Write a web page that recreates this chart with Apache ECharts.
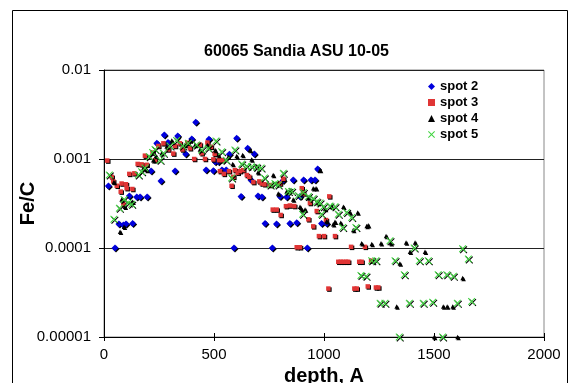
<!DOCTYPE html>
<html>
<head>
<meta charset="utf-8">
<script src="https://cdn.jsdelivr.net/npm/echarts@6/dist/echarts.min.js"></script>
<style>html,body{margin:0;padding:0;background:#fff}#c{width:575px;height:383px}</style>
</head>
<body>
<div id="c"></div>
<script>
const chartTitle = '60065 Sandia ASU 10-05';
const xName = 'depth, A';
const yName = 'Fe/C';
const seriesNames = ['spot 2', 'spot 3', 'spot 4', 'spot 5'];
const yTickLabels = ['0.00001', '0.0001', '0.001', '0.01'];
const xTicks = [0, 500, 1000, 1500, 2000];

const spot2 = [[20,4.97e-4],[50,1.0e-4],[68,1.86e-4],[88,1.81e-4],[100,1.86e-4],[115,3.84e-4],[130,1.89e-4],[149,3.74e-4],[164,3.74e-4],[196,3.74e-4],[214,7.33e-4],[240,1.50e-3],[259,5.65e-4],[274,1.86e-3],[291,1.53e-3],[323,7.33e-4],[335,1.81e-3],[371,1.14e-3],[399,1.68e-3],[417,2.59e-3],[464,7.52e-4],[477,1.67e-3],[497,7.4e-4],[505,9.3e-4],[520,9.3e-4],[536,7.52e-4],[555,7.52e-4],[570,1.13e-3],[591,1.0e-4],[603,1.71e-3],[623,3.8e-4],[653,1.32e-3],[668,5.8e-4],[683,1.14e-3],[700,3.84e-4],[718,3.74e-4],[732,1.89e-4],[765,1.0e-4],[784,1.86e-4],[800,3.8e-4],[814,5.75e-4],[830,3.74e-4],[845,1.88e-4],[860,5.81e-4],[876,1.92e-4],[891,3.8e-4],[907,5.81e-4],[924,1.0e-4],[941,5.81e-4],[959,5.81e-4],[971,7.72e-4],[989,1.89e-4],[1012,1.89e-4]];

const spot3 = [[15,9.6e-4],[35,6.3e-4],[42,5.6e-4],[58,5.0e-4],[76,4.3e-4],[80,5.3e-4],[88,3.1e-4],[100,5.2e-4],[103,4.7e-4],[115,6.8e-4],[129,4.6e-4],[138,6.9e-4],[153,8.8e-4],[171,8.7e-4],[186,1.09e-3],[194,8.6e-4],[221,1.18e-3],[232,9.7e-4],[247,1.4e-3],[270,1.5e-3],[292,1.28e-3],[315,1.15e-3],[323,1.4e-3],[345,1.5e-3],[356,1.28e-3],[379,1.52e-3],[391,1.32e-3],[410,1.0e-3],[436,1.45e-3],[444,1.16e-3],[459,1.0e-3],[470,1.53e-3],[486,1.37e-3],[497,9.9e-4],[503,1.14e-3],[523,9.7e-4],[539,9.7e-4],[527,7.3e-4],[545,6.8e-4],[568,7.3e-4],[580,5.0e-4],[588,6.3e-4],[595,7.5e-4],[608,7.0e-4],[618,7.3e-4],[633,7.5e-4],[649,6.6e-4],[660,6.3e-4],[679,5.5e-4],[706,5.6e-4],[717,5.3e-4],[729,5.2e-4],[755,5.1e-4],[800,5.3e-4],[815,6.0e-4],[767,2.7e-4],[785,2.7e-4],[803,2.35e-4],[827,2.95e-4],[845,3.0e-4],[865,2.96e-4],[876,1.02e-4],[891,1.02e-4],[899,4.7e-4],[906,4.1e-4],[929,2.1e-4],[936,3.2e-4],[951,1.75e-4],[967,2.6e-4],[977,1.36e-4],[1000,1.36e-4],[1009,2.06e-4],[1024,3.8e-4],[1050,1.36e-4],[1020,3.5e-5],[1065,7.0e-5],[1076,7.0e-5],[1088,7.0e-5],[1100,7.0e-5],[1110,7.0e-5],[1123,1.03e-4],[1138,3.5e-5],[1149,3.5e-5],[1160,7.0e-5],[1171,7.0e-5],[1186,1.03e-4],[1214,7.2e-5],[1199,3.7e-5],[1236,3.6e-5],[1247,3.6e-5]];

const spot4 = [[45,5.5e-4],[73,1.52e-4],[80,3.5e-4],[91,1.73e-4],[95,2.9e-4],[130,3.3e-4],[179,7.9e-4],[194,7.5e-4],[224,9.7e-4],[236,1.08e-3],[262,1.16e-3],[285,1.38e-3],[308,1.61e-3],[368,1.44e-3],[391,1.61e-3],[414,1.44e-3],[436,1.28e-3],[470,1.44e-3],[505,1.26e-3],[520,1.11e-3],[565,1.06e-3],[585,8.8e-4],[603,1.08e-3],[630,1.11e-3],[664,1.26e-3],[671,9.9e-4],[694,8.3e-4],[700,7.1e-4],[769,6.6e-4],[792,4.1e-4],[830,4.3e-4],[845,4.5e-4],[860,3.5e-4],[891,2.9e-4],[899,2.7e-4],[914,2.7e-4],[929,3.7e-4],[951,4.7e-4],[964,4.7e-4],[974,3.2e-4],[982,7.5e-4],[1005,2.75e-4],[1012,2.0e-4],[1035,2.9e-4],[1042,1.85e-4],[1050,1.97e-4],[1076,1.92e-4],[1088,2.9e-4],[1118,2.5e-4],[1133,1.59e-4],[1153,2.5e-4],[1171,1.13e-4],[1194,1.77e-4],[1201,1.8e-4],[1217,1.11e-4],[1259,1.13e-4],[1282,1.36e-4],[1304,1.13e-4],[1373,1.15e-4],[1414,1.15e-4],[1391,9.1e-5],[1459,9.1e-5],[1345,6.7e-5],[1330,2.2e-5],[1542,2.2e-5],[1560,2.2e-5],[1585,2.2e-5],[1630,4.6e-5],[1501,1.0e-5],[1607,1.0e-5]];

const spot5 = [[24,6.6e-4],[45,2.1e-4],[70,2.8e-4],[91,3.5e-4],[110,3.2e-4],[126,3.1e-4],[156,6.6e-4],[171,7.2e-4],[186,7.9e-4],[206,1.06e-3],[221,1.18e-3],[232,1.28e-3],[255,9.7e-4],[270,1.16e-3],[300,1.4e-3],[330,1.61e-3],[358,1.4e-3],[383,1.5e-3],[421,1.44e-3],[444,1.26e-3],[474,1.32e-3],[509,1.59e-3],[535,1.21e-3],[555,9.7e-4],[595,1.26e-3],[626,8.8e-4],[649,8.3e-4],[671,8.2e-4],[694,8.1e-4],[714,7.9e-4],[580,6.1e-4],[729,6.1e-4],[755,5.1e-4],[777,5.3e-4],[792,5.1e-4],[815,6.9e-4],[838,4.3e-4],[853,4.3e-4],[883,3.9e-4],[906,4.2e-4],[929,3.8e-4],[951,3.6e-4],[967,3.3e-4],[982,3.2e-4],[997,2.9e-4],[1027,2.96e-4],[1050,2.9e-4],[903,2.4e-4],[989,2.4e-4],[1065,2.4e-4],[1103,2.5e-4],[1126,2.2e-4],[1085,1.7e-4],[1145,1.7e-4],[1300,1.21e-4],[1410,1.0e-4],[1630,9.8e-5],[1656,7.5e-5],[1217,7.2e-5],[1236,7.2e-5],[1323,7.2e-5],[1433,7.2e-5],[1474,7.2e-5],[1168,4.9e-5],[1191,4.8e-5],[1365,5.0e-5],[1519,5.0e-5],[1558,5.0e-5],[1588,4.8e-5],[1255,2.4e-5],[1277,2.4e-5],[1388,2.4e-5],[1451,2.4e-5],[1494,2.45e-5],[1606,2.4e-5],[1671,2.5e-5],[1342,1.0e-5],[1539,1.0e-5]];

const seriesData = [spot2, spot3, spot4, spot5];
const colors = ['#0000dd', '#e03535', '#000000', '#3fd43f'];
const symbols = ['diamond', 'rect', 'triangle',
  'path://M0,1L1,0L5,4L9,0L10,1L6,5L10,9L9,10L5,6L1,10L0,9L4,5Z'];
const sizes = [7, 4.5, 4.5, 7.5];

const FONT = '"Liberation Sans", Arial, sans-serif';
const chart = echarts.init(document.getElementById('c'), null, {renderer: 'canvas'});

chart.setOption({
  animation: false,
  backgroundColor: '#fff',
  title: {
    text: chartTitle, left: 199, top: 39,
    textStyle: {fontFamily: FONT, fontSize: 16, fontWeight: 'bold', color: '#000'}
  },
  graphic: [{
    type: 'rect', shape: {x: 12.5, y: 10.5, width: 555, height: 400},
    style: {fill: 'none', stroke: '#000', lineWidth: 1}, silent: true, z: 0
  }],
  legend: {
    orient: 'vertical', left: 423, top: 75,
    itemWidth: 7, itemHeight: 7, itemGap: 3,
    data: seriesNames,
    textStyle: {fontFamily: FONT, fontSize: 13, fontWeight: 'bold', color: '#000', lineHeight: 12},
    itemStyle: {shadowColor: 'rgba(0,0,0,0)', shadowOffsetX: 0, shadowOffsetY: 0, shadowBlur: 0}
  },
  grid: {
    left: 104, right: 31, top: 70, bottom: 46,
    outerBoundsMode: 'none', containLabel: false,
    show: true, borderColor: '#888', borderWidth: 1, backgroundColor: '#fff'
  },
  xAxis: [{
    type: 'value', min: xTicks[0], max: xTicks[xTicks.length - 1], interval: 500,
    position: 'bottom',
    name: xName, nameLocation: 'middle', nameGap: 24,
    nameTextStyle: {fontFamily: FONT, fontSize: 20, fontWeight: 'bold', color: '#000'},
    axisLine: {show: true, onZero: false, lineStyle: {color: '#000', width: 1}},
    axisTick: {show: true, length: 4, lineStyle: {color: '#000'}},
    axisLabel: {fontFamily: FONT, fontSize: 15, color: '#000', margin: 10,
      formatter: function (v) { return String(v); }},
    splitLine: {show: false}
  }, {
    type: 'value', min: xTicks[0], max: xTicks[xTicks.length - 1], interval: 500,
    position: 'bottom', offset: 0,
    axisLine: {show: false},
    axisTick: {show: true, inside: true, length: 4, lineStyle: {color: '#000'}},
    axisLabel: {show: false},
    splitLine: {show: false}
  }],
  yAxis: {
    type: 'log', logBase: 10, min: 1e-5, max: 1e-2,
    name: yName, nameLocation: 'middle', nameRotate: 90, nameGap: 66,
    nameMoveOverlap: false,
    nameTextStyle: {fontFamily: FONT, fontSize: 20, fontWeight: 'bold', color: '#000'},
    axisLine: {show: true, onZero: false, lineStyle: {color: '#000', width: 1}},
    axisTick: {show: true, length: 5, lineStyle: {color: '#000'}},
    minorTick: {show: false},
    axisLabel: {
      fontFamily: FONT, fontSize: 15, color: '#000', margin: 13,
      formatter: function (v) { return yTickLabels[Math.round(Math.log10(v)) + 5]; }
    },
    splitLine: {show: true, showMinLine: false, showMaxLine: false, lineStyle: {color: '#222', width: 1}}
  },
  series: seriesData.map(function (d, i) {
    return {
      name: seriesNames[i], type: 'scatter', data: d, clip: false,
      xAxisIndex: 0, yAxisIndex: 0,
      symbol: symbols[i], symbolSize: sizes[i],
      itemStyle: {color: colors[i], opacity: 1, shadowColor: '#000', shadowOffsetX: 1, shadowOffsetY: 1, shadowBlur: 0},
      z: 2 + i
    };
  })
});
</script>
</body>
</html>
